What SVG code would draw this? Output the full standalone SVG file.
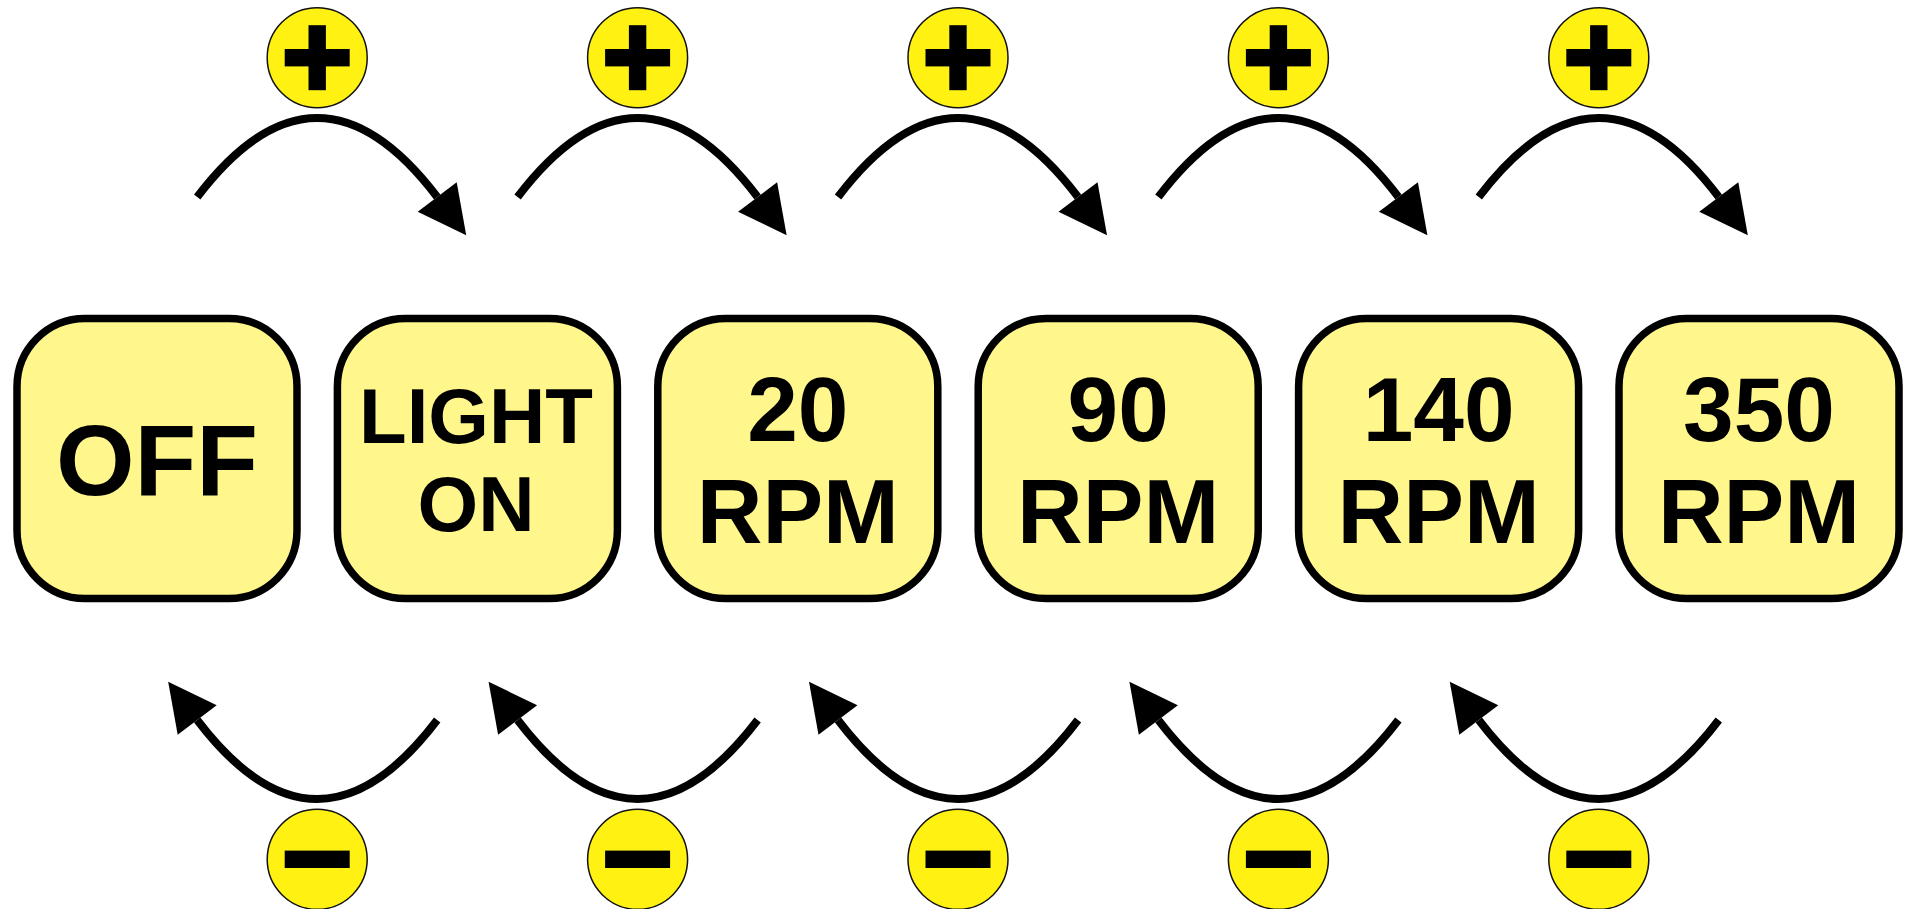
<svg xmlns="http://www.w3.org/2000/svg" width="1906" height="909" viewBox="0 0 1906 909">
<style>
.box{fill:#FFF68C;stroke:#000;stroke-width:7.5}
.btn{fill:#FFF213;stroke:#111;stroke-width:1.5}
.sym{fill:#000}
.arc{fill:none;stroke:#000;stroke-width:8;stroke-linecap:butt;marker-end:url(#ah)}
.t{font-family:"Liberation Sans",Arial,sans-serif;font-weight:bold;text-anchor:middle;fill:#000}
.big{font-size:101px}
.mid{font-size:78px}
.num{font-size:91px}
</style>
<defs>
<marker id="ah" markerUnits="userSpaceOnUse" markerWidth="50" markerHeight="50" refX="0" refY="25" orient="auto" overflow="visible">
<path d="M0,0.5 L48,25 L0,49.5 z" fill="#000"/>
</marker>
</defs>
<rect width="1906" height="909" fill="#fff"/>
<g id="connectors">
<path class="arc" d="M197.2,197 Q317.2,39 437.2,197"/>
<path class="arc" d="M517.6,197 Q637.6,39 757.6,197"/>
<path class="arc" d="M838,197 Q958,39 1078,197"/>
<path class="arc" d="M1158.4,197 Q1278.4,39 1398.4,197"/>
<path class="arc" d="M1478.8,197 Q1598.8,39 1718.8,197"/>
<path class="arc" d="M437.2,720 Q317.2,878 197.2,720"/>
<path class="arc" d="M757.6,720 Q637.6,878 517.6,720"/>
<path class="arc" d="M1078,720 Q958,878 838,720"/>
<path class="arc" d="M1398.4,720 Q1278.4,878 1158.4,720"/>
<path class="arc" d="M1718.8,720 Q1598.8,878 1478.8,720"/>
</g>
<g id="node-off">
<rect class="box" x="17" y="318.5" width="280" height="280" rx="68" ry="68"/>
<text class="t big" x="157" y="495">OFF</text>
</g>
<g id="node-light-on">
<rect class="box" x="337.4" y="318.5" width="280" height="280" rx="68" ry="68"/>
<text class="t mid" x="476" y="442.7">LIGHT</text>
<text class="t mid" x="476" y="530.5">ON</text>
</g>
<g id="node-20rpm">
<rect class="box" x="657.8" y="318.5" width="280" height="280" rx="68" ry="68"/>
<text class="t num" x="797.8" y="440.5">20</text>
<text class="t num" x="797.8" y="542.7">RPM</text>
</g>
<g id="node-90rpm">
<rect class="box" x="978.2" y="318.5" width="280" height="280" rx="68" ry="68"/>
<text class="t num" x="1118.2" y="440.5">90</text>
<text class="t num" x="1118.2" y="542.7">RPM</text>
</g>
<g id="node-140rpm">
<rect class="box" x="1298.6" y="318.5" width="280" height="280" rx="68" ry="68"/>
<text class="t num" x="1438.6" y="440.5">140</text>
<text class="t num" x="1438.6" y="542.7">RPM</text>
</g>
<g id="node-350rpm">
<rect class="box" x="1619" y="318.5" width="280" height="280" rx="68" ry="68"/>
<text class="t num" x="1759" y="440.5">350</text>
<text class="t num" x="1759" y="542.7">RPM</text>
</g>
<g id="plus-1"><circle class="btn" cx="317.2" cy="57.7" r="50"/><rect class="sym" x="284.7" y="49" width="65" height="17.4"/><rect class="sym" x="308.5" y="25.2" width="17.4" height="65"/></g>
<g id="plus-2"><circle class="btn" cx="637.6" cy="57.7" r="50"/><rect class="sym" x="605.1" y="49" width="65" height="17.4"/><rect class="sym" x="628.9" y="25.2" width="17.4" height="65"/></g>
<g id="plus-3"><circle class="btn" cx="958" cy="57.7" r="50"/><rect class="sym" x="925.5" y="49" width="65" height="17.4"/><rect class="sym" x="949.3" y="25.2" width="17.4" height="65"/></g>
<g id="plus-4"><circle class="btn" cx="1278.4" cy="57.7" r="50"/><rect class="sym" x="1245.9" y="49" width="65" height="17.4"/><rect class="sym" x="1269.7" y="25.2" width="17.4" height="65"/></g>
<g id="plus-5"><circle class="btn" cx="1598.8" cy="57.7" r="50"/><rect class="sym" x="1566.3" y="49" width="65" height="17.4"/><rect class="sym" x="1590.1" y="25.2" width="17.4" height="65"/></g>
<g id="minus-1"><circle class="btn" cx="317.2" cy="859.3" r="50"/><rect class="sym" x="284.7" y="850.6" width="65" height="17.4"/></g>
<g id="minus-2"><circle class="btn" cx="637.6" cy="859.3" r="50"/><rect class="sym" x="605.1" y="850.6" width="65" height="17.4"/></g>
<g id="minus-3"><circle class="btn" cx="958" cy="859.3" r="50"/><rect class="sym" x="925.5" y="850.6" width="65" height="17.4"/></g>
<g id="minus-4"><circle class="btn" cx="1278.4" cy="859.3" r="50"/><rect class="sym" x="1245.9" y="850.6" width="65" height="17.4"/></g>
<g id="minus-5"><circle class="btn" cx="1598.8" cy="859.3" r="50"/><rect class="sym" x="1566.3" y="850.6" width="65" height="17.4"/></g>
</svg>
